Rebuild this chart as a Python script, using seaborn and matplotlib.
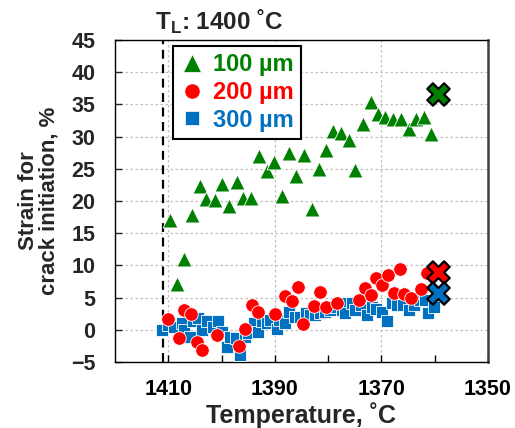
import matplotlib
matplotlib.use("Agg")
import matplotlib.pyplot as plt
import seaborn as sns
import pandas as pd
from matplotlib.lines import Line2D

# ---- data ----
green_x = [1409.7, 1408.4, 1407.0, 1405.5, 1404.1, 1402.9, 1401.3, 1399.9, 1398.6, 1397.1,
           1395.9, 1394.4, 1393.0, 1391.5, 1390.1, 1388.7, 1387.4, 1386.0, 1384.6, 1383.1,
           1381.7, 1380.4, 1379.1, 1377.6, 1376.1, 1374.9, 1373.4, 1371.9, 1370.7, 1369.3,
           1367.8, 1366.4, 1364.9, 1363.5, 1362.1, 1360.7]
green_y = [17.1, 7.1, 11.0, 17.8, 22.4, 20.3, 20.2, 22.7, 19.2, 22.9,
           20.5, 20.5, 27.0, 24.7, 26.0, 20.8, 27.4, 23.9, 27.1, 18.8,
           24.9, 27.9, 30.9, 30.6, 29.4, 24.8, 31.9, 35.3, 33.5, 33.0,
           32.8, 32.8, 31.2, 32.7, 33.1, 30.4]

red_x = [1410.0, 1408.0, 1407.0, 1405.8, 1404.7, 1403.6, 1400.8, 1396.7, 1395.6, 1394.2,
         1393.1, 1390.0, 1388.1, 1386.7, 1385.7, 1384.7, 1382.6, 1381.5, 1380.4, 1378.4,
         1374.3, 1373.1, 1372.0, 1371.0, 1369.8, 1368.7, 1367.7, 1366.6, 1365.8, 1364.4,
         1362.6, 1361.5]
red_y = [1.6, -1.2, 3.1, 2.4, -1.9, -3.1, -0.8, -2.5, 0.1, 3.9,
         2.7, 2.5, 5.2, 4.5, 6.7, 0.9, 3.7, 5.8, 3.6, 4.1,
         4.6, 6.5, 5.4, 8.0, 7.0, 8.5, 5.7, 9.5, 5.5, 5.0,
         6.3, 8.8]

blue_x = [1411.2, 1410.0, 1408.9, 1407.5, 1407.0, 1405.9, 1405.4, 1404.5, 1403.6, 1402.7,
          1401.6, 1400.6, 1400.0, 1399.0, 1398.4, 1397.3, 1396.5, 1395.6, 1395.0, 1393.9,
          1393.2, 1392.5, 1391.5, 1390.9, 1389.6, 1389.3, 1388.1, 1387.3, 1386.2, 1385.3,
          1384.1, 1383.4, 1382.4, 1381.5, 1380.6, 1379.6, 1378.6, 1377.4, 1377.1, 1376.8,
          1375.6, 1374.9, 1373.9, 1372.8, 1371.8, 1371.0, 1369.9, 1369.0, 1368.1, 1367.1,
          1365.9, 1364.9, 1363.9, 1362.7, 1361.8, 1361.2, 1360.2]
blue_y = [0.0, 0.8, 0.5, 1.0, 0.0, -1.1, 1.3, 1.8, 0.0, 1.3,
          0.5, 1.3, -0.3, -2.6, -1.1, -1.3, -3.9, -1.1, -0.5, 1.0,
          -0.3, 1.3, 1.0, 1.5, 0.2, 1.5, 1.0, 2.7, 2.0, 2.0,
          2.6, 2.3, 2.3, 2.6, 2.8, 3.1, 3.6, 3.1, 4.1, 2.6,
          4.1, 3.1, 3.8, 2.3, 3.6, 3.3, 2.8, 1.4, 4.1, 3.8,
          3.8, 3.1, 3.8, 4.7, 4.7, 2.6, 3.6]

crack_x = [1359.3, 1359.3, 1359.3]
crack_y = [36.6, 9.0, 5.7]

series_labels = ["100 µm", "200 µm", "300 µm"]
series_colors = ["#008000", "#FF0000", "#0070C0"]
series_markers = ["^", "o", "s"]
liquidus_T = 1411
title_text = "T$_\\mathregular{L}$: 1400 ˚C"

# ---- style ----
sns.set_style("ticks")
plt.rcParams["font.family"] = ["Liberation Sans", "DejaVu Sans"]
plt.rcParams["font.weight"] = "bold"
plt.rcParams["mathtext.default"] = "bf"

fig = plt.figure(figsize=(5.15, 4.28), dpi=100)
ax = fig.add_axes([115 / 515, 1 - 362 / 428, 373 / 515, 322 / 428])

# grid
for yv in range(-5, 46, 5):
    ax.axhline(yv, color="#c0c0c0", lw=0.9, ls=(0, (2, 2)), zorder=0)
for xv in [1410, 1390, 1370]:
    ax.axvline(xv, color="#c0c0c0", lw=0.9, ls=(0, (2, 2)), zorder=0)

# liquidus line
ax.axvline(liquidus_T, color="black", lw=1.6, ls=(0, (4, 2.5)), zorder=1)

dfs = [
    pd.DataFrame({"T": blue_x, "strain": blue_y}),
    pd.DataFrame({"T": red_x, "strain": red_y}),
    pd.DataFrame({"T": green_x, "strain": green_y}),
]
sizes = [75, 95, 115]
order = [2, 1, 0]
for df, s, i in zip(dfs, sizes, order):
    sns.scatterplot(data=df, x="T", y="strain", ax=ax, color=series_colors[i],
                    marker=series_markers[i], s=s, edgecolor="white", linewidth=0.6,
                    zorder=3, legend=False)

crack_df = pd.DataFrame({"T": crack_x, "strain": crack_y, "c": series_colors})
for j in range(len(crack_x)):
    sns.scatterplot(data=crack_df.iloc[[j]], x="T", y="strain", ax=ax,
                    color=crack_df["c"].iloc[j], marker="X", s=260,
                    edgecolor="black", linewidth=1.6, zorder=5, legend=False)

ax.set_xlim(1420, 1350)
ax.set_ylim(-5, 45)
ax.set_xticks([1410, 1390, 1370, 1350])
ax.set_xticks([1400, 1380, 1360], minor=True)
ax.set_yticks(range(-5, 46, 5))
ax.tick_params(axis="x", which="both", direction="in", length=5, width=1, pad=12,
               labelsize=15.5, colors="black")
ax.tick_params(axis="y", which="both", direction="in", length=5, width=1, pad=14,
               labelsize=15.5)
for lab in ax.get_xticklabels() + ax.get_yticklabels():
    lab.set_fontweight("bold")

for sp in ax.spines.values():
    sp.set_color("black")
    sp.set_linewidth(1.0)
ax.spines["right"].set_linewidth(1.8)
ax.spines["right"].set_color("#404040")

ax.set_xlabel("Temperature, ˚C", fontsize=18, fontweight="bold", labelpad=2)
ax.set_ylabel("Strain for\ncrack initiation, %", fontsize=16, fontweight="bold",
              labelpad=8, linespacing=1.0)

fig.text(155 / 515, 1 - 22 / 428, title_text, fontsize=17.5, fontweight="bold",
         ha="left", va="center")

handles = [Line2D([], [], ls="none", marker=m, color=c, markersize=ms,
                  markeredgecolor="white", markeredgewidth=0.5)
           for m, c, ms in zip(series_markers, series_colors, [12.5, 11, 10.5])]
leg = ax.legend(handles, series_labels, loc="upper left", bbox_to_anchor=(0.155, 0.981),
                frameon=True, fancybox=False, edgecolor="black", framealpha=1,
                prop={"size": 17, "weight": "bold"}, handletextpad=0.4,
                handlelength=1.0, borderpad=0.3, labelspacing=0.2, borderaxespad=0)
leg.get_frame().set_linewidth(1.5)
for t, c in zip(leg.get_texts(), series_colors):
    t.set_color(c)

fig.savefig("out.png", dpi=100)
